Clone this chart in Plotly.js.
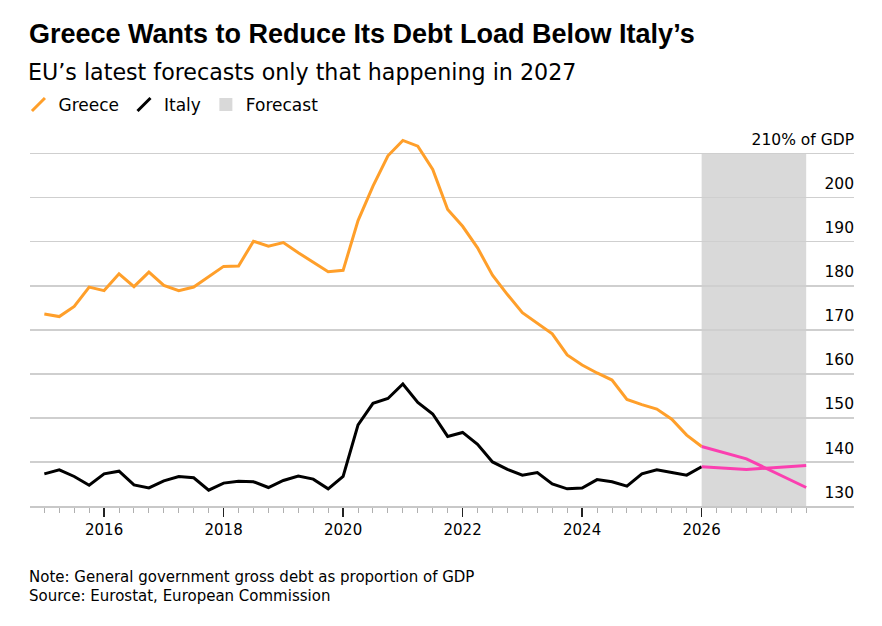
<!DOCTYPE html>
<html>
<head>
<meta charset="utf-8">
<script src="https://cdn.plot.ly/plotly-3.0.1.min.js"></script>
<style>
html,body{margin:0;padding:0;background:#fff;}
#chart{width:882px;height:626px;}
</style>
</head>
<body>
<div id="chart"></div>
<script>
// Quarterly observation positions (year fractions)
var quarters = [2015, 2015.25, 2015.5, 2015.75, 2016, 2016.25, 2016.5, 2016.75,
  2017, 2017.25, 2017.5, 2017.75, 2018, 2018.25, 2018.5, 2018.75,
  2019, 2019.25, 2019.5, 2019.75, 2020, 2020.25, 2020.5, 2020.75,
  2021, 2021.25, 2021.5, 2021.75, 2022, 2022.25, 2022.5, 2022.75,
  2023, 2023.25, 2023.5, 2023.75, 2024, 2024.25, 2024.5, 2024.75,
  2025, 2025.25, 2025.5, 2025.75, 2026];

var greece = [173.6, 173.0, 175.3, 179.7, 178.9, 182.7, 179.8, 183.1,
  180.1, 178.9, 179.7, 182.1, 184.4, 184.5, 190.1, 189.0,
  189.8, 187.5, 185.3, 183.2, 183.5, 194.8, 202.6, 209.5,
  213.0, 211.7, 206.4, 197.3, 193.5, 188.6, 182.4, 178.0,
  173.9, 171.5, 169.1, 164.3, 162.0, 160.2, 158.6, 154.2,
  153.0, 152.0, 149.7, 146.1, 143.5];

var italy = [137.3, 138.2, 136.7, 134.7, 137.3, 137.9, 134.8, 134.1,
  135.7, 136.7, 136.4, 133.6, 135.2, 135.6, 135.5, 134.2,
  135.8, 136.8, 136.1, 133.9, 136.7, 148.4, 153.3, 154.4,
  157.7, 153.5, 150.9, 145.8, 146.7, 144.0, 140.0, 138.3,
  137.0, 137.6, 135.0, 133.9, 134.1, 136.0, 135.5, 134.5,
  137.3, 138.2, 137.6, 137.0, 138.9];

// EU forecast points
var forecastX = [2026, 2026.75, 2027.75];
var greeceForecast = [143.5, 140.7, 134.2];
var italyForecast = [138.9, 138.3, 139.2];

var forecastStart = 2026;
var forecastEnd = 2027.75;

var extraQuarters = [2026.25, 2026.5, 2026.75, 2027, 2027.25, 2027.5, 2027.75];
var xTickVals = [2016, 2018, 2020, 2022, 2024, 2026];
var xTickText = ['2016', '2018', '2020', '2022', '2024', '2026'];
var yTickVals = [130, 140, 150, 160, 170, 180, 190, 200, 210];
var yTickText = ['130', '140', '150', '160', '170', '180', '190', '200', '210% of GDP'];

var ORANGE = '#ff9f2a';
var BLACK = '#000000';
var PINK = '#fb3fb0';
var GRAY = '#d9d9d9';
var TFONT = 'Liberation Sans, Arial, sans-serif';
var FONT = 'DejaVu Sans, sans-serif';

var traces = [
  {x: quarters, y: greece, type: 'scatter', mode: 'lines', line: {color: ORANGE, width: 3}, showlegend: false, hoverinfo: 'skip'},
  {x: quarters, y: italy, type: 'scatter', mode: 'lines', line: {color: BLACK, width: 3}, showlegend: false, hoverinfo: 'skip'},
  {x: forecastX, y: italyForecast, type: 'scatter', mode: 'lines', line: {color: PINK, width: 3}, showlegend: false, hoverinfo: 'skip'},
  {x: forecastX, y: greeceForecast, type: 'scatter', mode: 'lines', line: {color: PINK, width: 3}, showlegend: false, hoverinfo: 'skip'},
  // legend entries
  {x: [null], y: [null], type: 'scatter', mode: 'markers', name: 'Greece',
   marker: {symbol: 'line-ne', size: 13, line: {color: ORANGE, width: 3}}},
  {x: [null], y: [null], type: 'scatter', mode: 'markers', name: 'Italy',
   marker: {symbol: 'line-ne', size: 13, line: {color: BLACK, width: 3}}},
  {x: [null], y: [null], type: 'scatter', mode: 'markers', name: 'Forecast',
   marker: {symbol: 'square', size: 13, color: GRAY, line: {width: 0}}}
];

var layout = {
  width: 882, height: 626,
  margin: {l: 30, r: 28, t: 136, b: 120},
  paper_bgcolor: '#fff', plot_bgcolor: 'rgba(0,0,0,0)',
  font: {family: FONT, color: '#000'},
  title: {
    text: '<b>Greece Wants to Reduce Its Debt Load Below Italy’s</b>',
    font: {family: TFONT, size: 27, color: '#000'},
    xref: 'container', x: 29 / 882, xanchor: 'left',
    yref: 'container', y: 1 - 34 / 626, yanchor: 'middle'
  },
  showlegend: true,
  legend: {
    orientation: 'h', x: -0.014, xanchor: 'left', y: (506 - 105) / 370, yanchor: 'middle',
    font: {family: FONT, size: 17, color: '#000'}, itemwidth: 30, traceorder: 'normal',
    bgcolor: 'rgba(0,0,0,0)'
  },
  xaxis: {
    range: [2014.76, 2028.55], fixedrange: true,
    showgrid: false, zeroline: false,
    showline: true, linecolor: '#c8c8c8', linewidth: 1.5,
    tickmode: 'array', tickvals: xTickVals, ticktext: xTickText,
    ticks: 'outside', ticklen: 9, tickwidth: 1.5, tickcolor: '#222',
    tickfont: {family: FONT, size: 15, color: '#000'},
    minor: {tickmode: 'array', tickvals: quarters.concat(extraQuarters), ticks: 'outside', ticklen: 5, tickwidth: 1, tickcolor: '#b0b0b0', showgrid: false}
  },
  yaxis: {
    range: [130, 214], fixedrange: true,
    side: 'right', zeroline: false, showline: false,
    tickmode: 'array', tickvals: yTickVals, ticktext: yTickText,
    ticklabelposition: 'inside top', ticklabeloverflow: 'allow',
    ticklabelshift: -3, ticklabelstandoff: -3,
    ticks: '', showgrid: true, gridcolor: '#cfcfcf', gridwidth: 1.5,
    tickfont: {family: FONT, size: 15.5, color: '#000'}
  },
  shapes: [
    {type: 'rect', xref: 'x', yref: 'y', x0: forecastStart, x1: forecastEnd, y0: 130, y1: 210,
     fillcolor: GRAY, line: {width: 0}, layer: 'below'}
  ],
  annotations: [
    {text: 'EU’s latest forecasts only that happening in 2027', xref: 'paper', yref: 'paper',
     x: 0, xanchor: 'left', xshift: -4, y: (506 - 72) / 370, yanchor: 'middle', showarrow: false,
     font: {family: FONT, size: 22.2, color: '#000'}},
    {text: 'Note: General government gross debt as proportion of GDP', xref: 'paper', yref: 'paper',
     x: 0, xanchor: 'left', xshift: -3, y: (506 - 577) / 370, yanchor: 'middle', showarrow: false,
     font: {family: FONT, size: 15, color: '#000'}},
    {text: 'Source: Eurostat, European Commission', xref: 'paper', yref: 'paper',
     x: 0, xanchor: 'left', xshift: -3, y: (506 - 596) / 370, yanchor: 'middle', showarrow: false,
     font: {family: FONT, size: 15, color: '#000'}}
  ]
};

Plotly.newPlot('chart', traces, layout, {displayModeBar: false, staticPlot: true});
</script>
</body>
</html>
